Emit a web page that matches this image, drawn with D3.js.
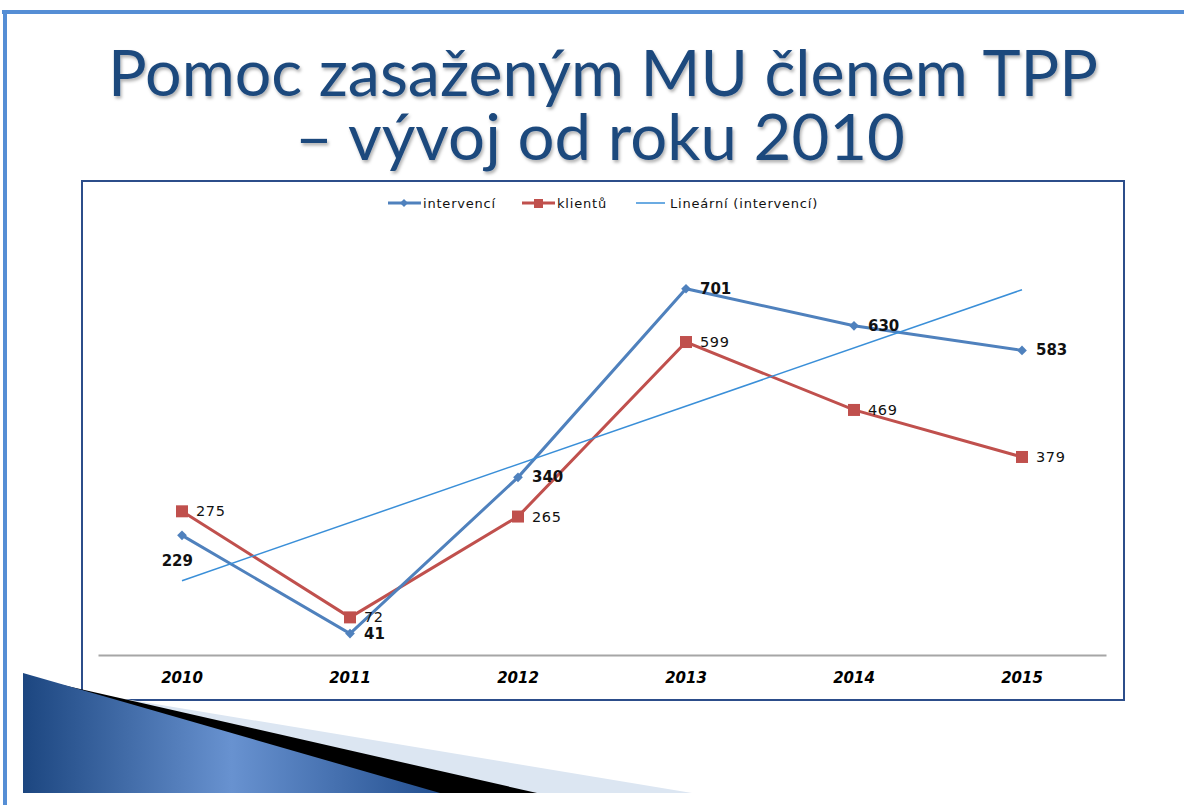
<!DOCTYPE html>
<html>
<head>
<meta charset="utf-8">
<script src="https://cdn.jsdelivr.net/npm/d3@7"></script>
<style>
  body { margin: 0; background: #fff; }
  svg { display: block; }
</style>
</head>
<body>
<svg id="slide" width="1184" height="805"></svg>
<script>
// data
var years = ["2010", "2011", "2012", "2013", "2014", "2015"]
  , intervenci = [229, 41, 340, 701, 630, 583]
  , klienti = [275, 72, 265, 599, 469, 379]
  , seriesNames = ["intervencí", "klientů", "Lineární (intervencí)"]
  , titleLines = ["Pomoc zasaženým MU členem TPP", "– vývoj od roku 2010"];

var svg = d3.select("#slide");

// --- slide decoration ---
var defs = svg.append("defs");
var grad = defs.append("linearGradient").attr("id", "blueGrad")
  .attr("x1", "0%").attr("y1", "0%").attr("x2", "100%").attr("y2", "0%");
grad.append("stop").attr("offset", "0%").attr("stop-color", "#1c4680");
grad.append("stop").attr("offset", "50%").attr("stop-color", "#6892d0");
grad.append("stop").attr("offset", "100%").attr("stop-color", "#234f8f");

var shadow = defs.append("filter").attr("id", "titleShadow")
  .attr("x", "-5%").attr("y", "-20%").attr("width", "110%").attr("height", "150%");
shadow.append("feDropShadow").attr("dx", 1.5).attr("dy", 2.5)
  .attr("stdDeviation", 1.5).attr("flood-color", "#000").attr("flood-opacity", 0.3);

svg.append("rect").attr("x", 2).attr("y", 10).attr("width", 1182).attr("height", 4).attr("fill", "#558ed5");
svg.append("rect").attr("x", 3).attr("y", 10).attr("width", 4).attr("height", 795).attr("fill", "#558ed5");

// title
svg.selectAll("text.title")
  .data(titleLines)
  .enter().append("text")
  .attr("class", "title")
  .attr("x", (d, i) => i ? 600 : 603)
  .attr("y", (d, i) => i ? 160 : 96)
  .attr("text-anchor", "middle")
  .attr("textLength", (d, i) => i ? 610 : 990)
  .attr("lengthAdjust", "spacingAndGlyphs")
  .style("font-family", "Lato, 'Open Sans', sans-serif")
  .style("font-size", "64px")
  .style("fill", "#1f497d")
  .attr("filter", "url(#titleShadow)")
  .text(d => d);

// --- chart ---
var chartG = svg.append("g");
chartG.append("rect")
  .attr("x", 82).attr("y", 181).attr("width", 1042).attr("height", 519)
  .attr("fill", "#fff").attr("stroke", "#2c4d8a").attr("stroke-width", 2);

var xScale = d3.scaleBand().domain(years).range([98, 1106]).padding(0);
var xc = d => xScale(d) + xScale.bandwidth() / 2;
var yScale = d3.scaleLinear().domain([0, 800]).range([655, 237]);

// axis
var axis = chartG.append("g")
  .attr("transform", "translate(0," + yScale(0) + ")")
  .call(d3.axisBottom(xScale).tickSize(0).tickPadding(0));
axis.select(".domain").attr("stroke", "#a6a6a6").attr("stroke-width", 2);
axis.selectAll(".tick text")
  .attr("y", 28)
  .attr("dy", 0)
  .style("font-family", "'DejaVu Sans', sans-serif")
  .style("font-size", "15px")
  .style("font-weight", "bold")
  .style("font-style", "italic")
  .style("fill", "#000");

// linear trend of intervencí
var n = intervenci.length
  , xs = d3.range(1, n + 1)
  , mx = d3.mean(xs)
  , my = d3.mean(intervenci)
  , slope = d3.sum(xs, (x, i) => (x - mx) * (intervenci[i] - my)) / d3.sum(xs, x => (x - mx) * (x - mx))
  , icpt = my - slope * mx;
var trend = years.map((y, i) => ({ year: y, value: icpt + slope * (i + 1) }));

var line = d3.line().x(d => xc(d.year)).y(d => yScale(d.value));

var blue = "#4f81bd", red = "#c0504d", trendColor = "#3a8fd8";

var intData = years.map((y, i) => ({ year: y, value: intervenci[i], i: i }));
var kliData = years.map((y, i) => ({ year: y, value: klienti[i], i: i }));

chartG.append("path").datum(kliData)
  .attr("d", line).attr("fill", "none").attr("stroke", red).attr("stroke-width", 3);
chartG.append("path").datum(intData)
  .attr("d", line).attr("fill", "none").attr("stroke", blue).attr("stroke-width", 3);
chartG.append("path").datum([trend[0], trend[n - 1]])
  .attr("d", line).attr("fill", "none").attr("stroke", trendColor).attr("stroke-width", 1.5);

// markers
var diamond = d3.symbol().type(d3.symbolDiamond2).size(60);
chartG.selectAll("path.int-mark").data(intData).enter().append("path")
  .attr("class", "int-mark")
  .attr("d", diamond)
  .attr("transform", d => "translate(" + xc(d.year) + "," + yScale(d.value) + ")")
  .attr("fill", blue);
chartG.selectAll("rect.kli-mark").data(kliData).enter().append("rect")
  .attr("class", "kli-mark")
  .attr("x", d => xc(d.year) - 6).attr("y", d => yScale(d.value) - 6)
  .attr("width", 12).attr("height", 12)
  .attr("fill", red);

// data labels
chartG.selectAll("text.int-lab").data(intData).enter().append("text")
  .attr("class", "int-lab")
  .attr("x", d => d.i === 0 ? xc(d.year) + 11 : xc(d.year) + 14)
  .attr("y", d => d.i === 0 ? yScale(d.value) + 31 : yScale(d.value) + 5)
  .attr("text-anchor", d => d.i === 0 ? "end" : "start")
  .style("font-family", "'DejaVu Sans', sans-serif")
  .style("font-size", "15px")
  .style("font-weight", "bold")
  .style("fill", "#111")
  .text(d => d.value);
chartG.selectAll("text.kli-lab").data(kliData).enter().append("text")
  .attr("class", "kli-lab")
  .attr("x", d => xc(d.year) + 14)
  .attr("y", d => yScale(d.value) + 5)
  .style("font-family", "'DejaVu Sans', sans-serif")
  .style("font-size", "14.5px")
  .style("letter-spacing", "0.6px")
  .style("fill", "#111")
  .text(d => d.value);

// legend
var legendX = [388, 522, 636];
var leg = chartG.selectAll("g.leg").data(seriesNames).enter().append("g")
  .attr("class", "leg")
  .attr("transform", (d, i) => "translate(" + legendX[i] + ",203)");
leg.append("line")
  .attr("x1", 0).attr("x2", (d, i) => i === 2 ? 29 : 33)
  .attr("stroke", (d, i) => [blue, red, trendColor][i])
  .attr("stroke-width", (d, i) => i === 2 ? 1.5 : 3);
leg.filter((d, i) => i === 0).append("path")
  .attr("d", d3.symbol().type(d3.symbolDiamond2).size(40))
  .attr("transform", "translate(16,0)").attr("fill", blue);
leg.filter((d, i) => i === 1).append("rect")
  .attr("x", 12).attr("y", -4).attr("width", 9).attr("height", 9).attr("fill", red);
leg.append("text")
  .attr("x", (d, i) => i === 2 ? 34 : 35)
  .attr("dy", "0.35em")
  .style("font-family", "'DejaVu Sans', sans-serif")
  .style("font-size", "13px")
  .style("letter-spacing", "0.8px")
  .style("fill", "#111")
  .text(d => d);

// bottom-left wedge decoration (drawn over the chart frame)
var deco = svg.append("g");
deco.append("polygon").attr("points", "23,682 692,793 23,793").attr("fill", "#dce6f2");
deco.append("polygon").attr("points", "23,676 537,793 23,793").attr("fill", "#000");
deco.append("polygon").attr("points", "23,673 440,793 23,793").attr("fill", "url(#blueGrad)");
</script>
</body>
</html>
